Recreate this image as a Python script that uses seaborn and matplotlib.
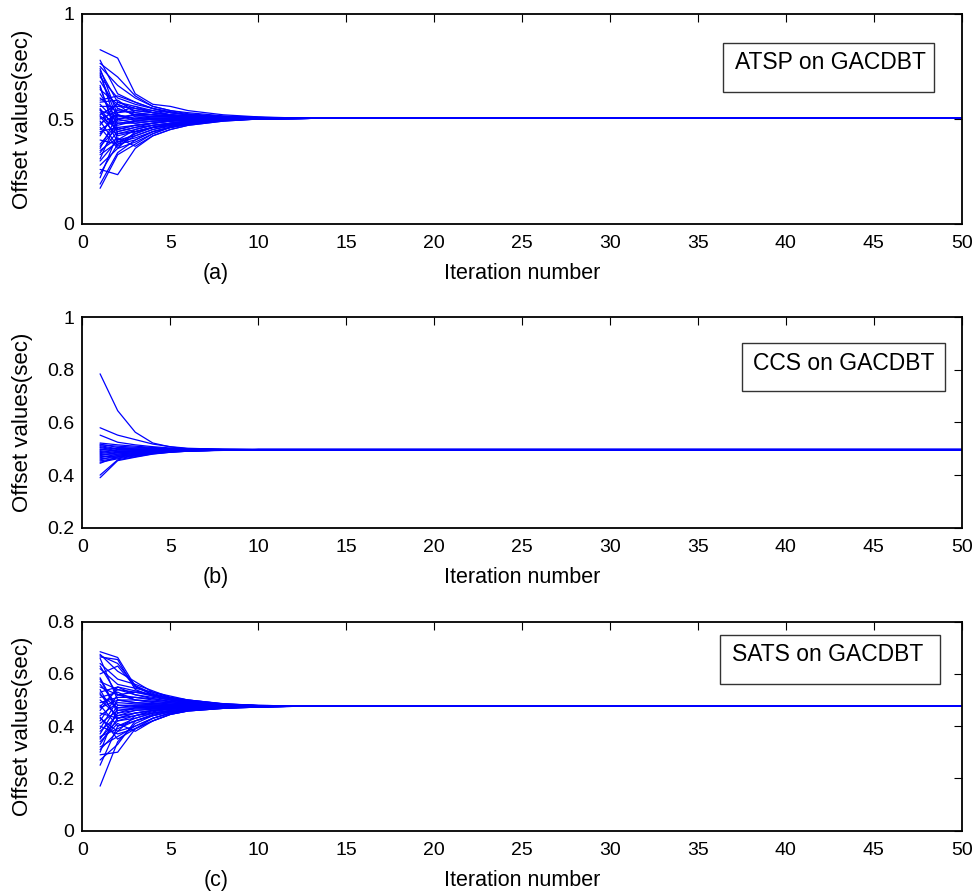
import numpy as np
import pandas as pd
import matplotlib
matplotlib.use("Agg")
import matplotlib.pyplot as plt
from matplotlib.patches import Rectangle
from matplotlib.ticker import FuncFormatter
import seaborn as sns

# Iterations at which each node's offset is recorded; the last two are the settled state
ITERATIONS = [1, 2, 3, 4, 5, 6, 8, 10, 13, 50]

# ATSP on GACDBT: offsets per node at iterations 1,2,3,4,5,6,8,10
ATSP_OFFSETS = [
    [0.83, 0.79, 0.62, 0.57, 0.56, 0.54, 0.52, 0.51],
    [0.78, 0.62, 0.58, 0.55, 0.53, 0.52, 0.51, 0.507],
    [0.765, 0.70, 0.61, 0.56, 0.54, 0.525, 0.512, 0.507],
    [0.75, 0.66, 0.60, 0.56, 0.54, 0.53, 0.515, 0.508],
    [0.74, 0.52, 0.49, 0.50, 0.50, 0.50, 0.503, 0.504],
    [0.73, 0.58, 0.55, 0.53, 0.52, 0.51, 0.508, 0.506],
    [0.72, 0.45, 0.47, 0.48, 0.49, 0.495, 0.50, 0.503],
    [0.71, 0.50, 0.52, 0.52, 0.515, 0.51, 0.506, 0.505],
    [0.70, 0.60, 0.57, 0.55, 0.53, 0.52, 0.51, 0.507],
    [0.68, 0.55, 0.52, 0.52, 0.51, 0.51, 0.507, 0.505],
    [0.66, 0.40, 0.45, 0.47, 0.48, 0.49, 0.498, 0.502],
    [0.65, 0.43, 0.44, 0.46, 0.475, 0.485, 0.497, 0.502],
    [0.64, 0.57, 0.54, 0.53, 0.52, 0.515, 0.508, 0.506],
    [0.62, 0.49, 0.50, 0.51, 0.51, 0.505, 0.505, 0.505],
    [0.60, 0.53, 0.56, 0.54, 0.53, 0.52, 0.51, 0.507],
    [0.59, 0.61, 0.58, 0.55, 0.535, 0.52, 0.51, 0.507],
    [0.58, 0.59, 0.53, 0.52, 0.515, 0.51, 0.506, 0.505],
    [0.57, 0.48, 0.48, 0.49, 0.495, 0.50, 0.502, 0.504],
    [0.56, 0.56, 0.55, 0.54, 0.52, 0.515, 0.508, 0.506],
    [0.55, 0.44, 0.46, 0.47, 0.48, 0.49, 0.498, 0.502],
    [0.545, 0.39, 0.43, 0.46, 0.475, 0.486, 0.497, 0.502],
    [0.54, 0.51, 0.52, 0.51, 0.51, 0.508, 0.506, 0.505],
    [0.53, 0.47, 0.49, 0.50, 0.50, 0.50, 0.503, 0.504],
    [0.52, 0.57, 0.51, 0.50, 0.50, 0.502, 0.504, 0.505],
    [0.515, 0.45, 0.47, 0.48, 0.49, 0.495, 0.50, 0.503],
    [0.51, 0.42, 0.44, 0.46, 0.47, 0.48, 0.495, 0.501],
    [0.50, 0.54, 0.53, 0.52, 0.515, 0.51, 0.507, 0.505],
    [0.49, 0.37, 0.42, 0.45, 0.47, 0.48, 0.495, 0.501],
    [0.48, 0.52, 0.50, 0.50, 0.505, 0.505, 0.505, 0.505],
    [0.47, 0.58, 0.56, 0.53, 0.52, 0.51, 0.507, 0.505],
    [0.46, 0.36, 0.39, 0.43, 0.46, 0.475, 0.492, 0.50],
    [0.45, 0.50, 0.51, 0.51, 0.51, 0.508, 0.506, 0.505],
    [0.44, 0.46, 0.47, 0.48, 0.49, 0.495, 0.50, 0.503],
    [0.43, 0.53, 0.54, 0.53, 0.52, 0.512, 0.507, 0.505],
    [0.42, 0.55, 0.52, 0.51, 0.51, 0.508, 0.506, 0.505],
    [0.40, 0.38, 0.43, 0.46, 0.47, 0.48, 0.496, 0.502],
    [0.38, 0.48, 0.49, 0.49, 0.495, 0.50, 0.503, 0.504],
    [0.37, 0.46, 0.44, 0.46, 0.475, 0.485, 0.497, 0.502],
    [0.36, 0.52, 0.50, 0.50, 0.50, 0.503, 0.504, 0.505],
    [0.35, 0.41, 0.37, 0.42, 0.45, 0.47, 0.49, 0.50],
    [0.34, 0.44, 0.46, 0.48, 0.49, 0.495, 0.50, 0.503],
    [0.33, 0.39, 0.41, 0.44, 0.46, 0.475, 0.494, 0.501],
    [0.31, 0.50, 0.48, 0.49, 0.49, 0.497, 0.502, 0.504],
    [0.30, 0.40, 0.42, 0.45, 0.465, 0.48, 0.495, 0.501],
    [0.28, 0.36, 0.44, 0.46, 0.48, 0.49, 0.498, 0.502],
    [0.26, 0.235, 0.36, 0.42, 0.45, 0.47, 0.49, 0.50],
    [0.24, 0.38, 0.40, 0.44, 0.46, 0.478, 0.494, 0.501],
    [0.22, 0.43, 0.45, 0.47, 0.48, 0.49, 0.498, 0.502],
    [0.19, 0.34, 0.40, 0.44, 0.46, 0.48, 0.495, 0.501],
    [0.17, 0.33, 0.38, 0.43, 0.46, 0.475, 0.493, 0.501],
]
ATSP_SETTLED = 0.503

# CCS on GACDBT
CCS_OFFSETS = [
    [0.785, 0.645, 0.563, 0.522, 0.507, 0.500, 0.498, 0.497],
    [0.58, 0.552, 0.535, 0.518, 0.508, 0.502, 0.498, 0.497],
    [0.552, 0.525, 0.515, 0.508, 0.503, 0.500, 0.498, 0.497],
    [0.522, 0.515, 0.510, 0.505, 0.501, 0.499, 0.497, 0.497],
    [0.518, 0.505, 0.503, 0.501, 0.499, 0.498, 0.497, 0.497],
    [0.515, 0.510, 0.506, 0.503, 0.500, 0.499, 0.497, 0.497],
    [0.512, 0.500, 0.499, 0.498, 0.498, 0.497, 0.497, 0.497],
    [0.508, 0.497, 0.497, 0.497, 0.497, 0.497, 0.497, 0.497],
    [0.505, 0.492, 0.493, 0.494, 0.495, 0.496, 0.497, 0.497],
    [0.500, 0.489, 0.491, 0.493, 0.494, 0.495, 0.496, 0.497],
    [0.497, 0.502, 0.500, 0.499, 0.498, 0.497, 0.497, 0.497],
    [0.493, 0.485, 0.488, 0.491, 0.493, 0.494, 0.496, 0.497],
    [0.490, 0.495, 0.496, 0.496, 0.497, 0.497, 0.497, 0.497],
    [0.486, 0.480, 0.485, 0.489, 0.492, 0.494, 0.496, 0.497],
    [0.482, 0.490, 0.492, 0.494, 0.495, 0.496, 0.497, 0.497],
    [0.478, 0.476, 0.482, 0.487, 0.490, 0.493, 0.496, 0.497],
    [0.474, 0.485, 0.489, 0.492, 0.494, 0.495, 0.497, 0.497],
    [0.470, 0.472, 0.479, 0.486, 0.490, 0.492, 0.495, 0.497],
    [0.466, 0.480, 0.486, 0.490, 0.493, 0.494, 0.496, 0.497],
    [0.462, 0.468, 0.477, 0.485, 0.489, 0.492, 0.495, 0.497],
    [0.458, 0.475, 0.483, 0.489, 0.492, 0.494, 0.496, 0.497],
    [0.454, 0.465, 0.475, 0.484, 0.489, 0.492, 0.495, 0.497],
    [0.449, 0.462, 0.473, 0.482, 0.488, 0.491, 0.495, 0.497],
    [0.445, 0.470, 0.480, 0.487, 0.491, 0.493, 0.496, 0.497],
    [0.400, 0.458, 0.470, 0.481, 0.487, 0.491, 0.495, 0.497],
    [0.390, 0.455, 0.468, 0.480, 0.487, 0.491, 0.494, 0.497],
]
CCS_SETTLED = 0.497

# SATS on GACDBT
SATS_OFFSETS = [
    [0.685, 0.663, 0.553, 0.52, 0.505, 0.495, 0.483, 0.478],
    [0.675, 0.61, 0.57, 0.53, 0.51, 0.50, 0.485, 0.479],
    [0.67, 0.64, 0.555, 0.525, 0.508, 0.497, 0.484, 0.479],
    [0.665, 0.655, 0.54, 0.515, 0.50, 0.492, 0.482, 0.478],
    [0.66, 0.50, 0.49, 0.485, 0.482, 0.48, 0.478, 0.477],
    [0.64, 0.58, 0.56, 0.535, 0.51, 0.50, 0.485, 0.479],
    [0.63, 0.52, 0.53, 0.515, 0.50, 0.49, 0.481, 0.477],
    [0.62, 0.56, 0.545, 0.53, 0.515, 0.50, 0.486, 0.479],
    [0.60, 0.63, 0.55, 0.52, 0.505, 0.495, 0.483, 0.478],
    [0.585, 0.46, 0.47, 0.472, 0.474, 0.475, 0.476, 0.476],
    [0.58, 0.45, 0.46, 0.465, 0.47, 0.472, 0.475, 0.476],
    [0.57, 0.54, 0.53, 0.52, 0.505, 0.495, 0.482, 0.478],
    [0.56, 0.48, 0.48, 0.48, 0.478, 0.477, 0.476, 0.476],
    [0.55, 0.52, 0.51, 0.505, 0.495, 0.488, 0.48, 0.477],
    [0.54, 0.42, 0.44, 0.455, 0.465, 0.47, 0.474, 0.475],
    [0.53, 0.55, 0.52, 0.51, 0.50, 0.49, 0.481, 0.477],
    [0.525, 0.43, 0.45, 0.46, 0.466, 0.47, 0.474, 0.475],
    [0.52, 0.47, 0.47, 0.47, 0.472, 0.474, 0.475, 0.476],
    [0.51, 0.53, 0.50, 0.495, 0.49, 0.485, 0.479, 0.477],
    [0.50, 0.44, 0.45, 0.46, 0.467, 0.471, 0.474, 0.475],
    [0.49, 0.51, 0.51, 0.50, 0.493, 0.487, 0.48, 0.477],
    [0.48, 0.40, 0.42, 0.44, 0.455, 0.463, 0.471, 0.474],
    [0.475, 0.54, 0.52, 0.505, 0.495, 0.488, 0.48, 0.477],
    [0.47, 0.50, 0.49, 0.487, 0.484, 0.481, 0.478, 0.477],
    [0.46, 0.55, 0.535, 0.52, 0.505, 0.494, 0.483, 0.478],
    [0.45, 0.43, 0.44, 0.45, 0.46, 0.466, 0.472, 0.475],
    [0.44, 0.49, 0.485, 0.482, 0.48, 0.479, 0.477, 0.476],
    [0.435, 0.35, 0.39, 0.43, 0.45, 0.46, 0.47, 0.474],
    [0.43, 0.38, 0.40, 0.43, 0.45, 0.46, 0.47, 0.474],
    [0.42, 0.52, 0.50, 0.49, 0.485, 0.482, 0.478, 0.477],
    [0.41, 0.46, 0.465, 0.468, 0.47, 0.472, 0.474, 0.475],
    [0.40, 0.37, 0.39, 0.42, 0.445, 0.458, 0.468, 0.473],
    [0.39, 0.50, 0.50, 0.495, 0.488, 0.484, 0.479, 0.477],
    [0.38, 0.44, 0.46, 0.465, 0.468, 0.471, 0.474, 0.475],
    [0.37, 0.48, 0.475, 0.475, 0.475, 0.476, 0.476, 0.476],
    [0.36, 0.39, 0.42, 0.44, 0.455, 0.462, 0.47, 0.474],
    [0.355, 0.42, 0.43, 0.45, 0.46, 0.466, 0.472, 0.475],
    [0.35, 0.45, 0.47, 0.47, 0.472, 0.473, 0.475, 0.476],
    [0.34, 0.41, 0.38, 0.42, 0.445, 0.458, 0.468, 0.473],
    [0.33, 0.43, 0.45, 0.46, 0.465, 0.47, 0.474, 0.475],
    [0.32, 0.36, 0.40, 0.43, 0.45, 0.46, 0.47, 0.474],
    [0.31, 0.38, 0.44, 0.46, 0.465, 0.47, 0.474, 0.475],
    [0.30, 0.47, 0.48, 0.48, 0.478, 0.477, 0.476, 0.476],
    [0.29, 0.30, 0.39, 0.42, 0.445, 0.458, 0.468, 0.473],
    [0.27, 0.33, 0.42, 0.445, 0.458, 0.465, 0.472, 0.475],
    [0.25, 0.40, 0.43, 0.45, 0.46, 0.466, 0.472, 0.475],
    [0.17, 0.34, 0.41, 0.44, 0.455, 0.463, 0.471, 0.474],
]
SATS_SETTLED = 0.477

PANEL_TITLES = ["ATSP on GACDBT", "CCS on GACDBT", "SATS on GACDBT"]
PANEL_TAGS = ["(a)", "(b)", "(c)"]
Y_LIMITS = [(0, 1), (0.2, 1), (0, 0.8)]
Y_TICKS = [[0, 0.5, 1], [0.2, 0.4, 0.6, 0.8, 1], [0, 0.2, 0.4, 0.6, 0.8]]
X_TICKS = list(range(0, 51, 5))


def long_table(offsets, settled):
    rows = []
    for node, vals in enumerate(offsets):
        series = list(vals) + [settled, settled]
        for it, v in zip(ITERATIONS, series):
            rows.append({"node": node, "iteration": it, "offset": v})
    return pd.DataFrame(rows)


tables = [long_table(ATSP_OFFSETS, ATSP_SETTLED),
          long_table(CCS_OFFSETS, CCS_SETTLED),
          long_table(SATS_OFFSETS, SATS_SETTLED)]

sns.set_style("white")
plt.rcParams["font.family"] = ["Liberation Sans", "DejaVu Sans"]
plt.rcParams["text.color"] = "black"
plt.rcParams["axes.labelcolor"] = "black"

W, H = 978, 896
fig = plt.figure(figsize=(W / 100, H / 100), dpi=100)

# axes frames in pixels: (left, top, right, bottom)
frames = [(82.5, 14.0, 961.7, 224.0),
          (82.5, 317.3, 961.7, 527.7),
          (82.5, 621.7, 961.7, 830.5)]
# annotation boxes in pixels: (left, top, right, bottom), text left, text baseline
boxes = [((723.3, 43.3, 934.0, 92.0), 735.0, 69.3),
         ((741.7, 343.3, 945.0, 391.3), 753.0, 370.0),
         ((720.0, 635.0, 940.0, 684.0), 732.3, 660.7)]

for i, (df, (l, t, r, b)) in enumerate(zip(tables, frames)):
    ax = fig.add_axes([l / W, 1 - b / H, (r - l) / W, (b - t) / H])
    sns.lineplot(data=df, x="iteration", y="offset", units="node",
                 estimator=None, color="#0000ff", linewidth=0.9,
                 legend=False, ax=ax)
    ax.set_xlim(0, 50)
    ax.set_ylim(*Y_LIMITS[i])
    ax.set_xticks(X_TICKS)
    ax.set_yticks(Y_TICKS[i])
    ax.yaxis.set_major_formatter(FuncFormatter(lambda v, p: f"{v:g}"))
    ax.tick_params(direction="in", length=5.5, width=0.8, top=True,
                   right=True, labelsize=14, colors="black")
    ax.tick_params(axis="x", pad=8)
    ax.tick_params(axis="y", pad=6)
    for s in ax.spines.values():
        s.set_linewidth(1.3)
        s.set_color("black")

    ax.set_xlabel("Iteration number", fontsize=15.5, color="black")
    ax.xaxis.label.set_va("baseline")
    ax.xaxis.set_label_coords(0.5, -55.0 / (b - t))
    ax.set_ylabel("Offset values(sec)", fontsize=16, color="black")
    ax.yaxis.label.set_va("center")
    ax.yaxis.set_label_coords((23.0 - l) / (r - l), 0.5)

    ax.text((216.0 - l) / (r - l), -55.0 / (b - t), PANEL_TAGS[i],
            transform=ax.transAxes, ha="center", va="baseline",
            fontsize=15.5, color="black")

    (bl, bt, br, bb), tx, ty = boxes[i]
    fig.patches.append(Rectangle((bl / W, 1 - bb / H), (br - bl) / W,
                                 (bb - bt) / H, transform=fig.transFigure,
                                 fill=True, facecolor="white",
                                 edgecolor="#333333", linewidth=1.0,
                                 zorder=5))
    fig.text(tx / W, 1 - ty / H, PANEL_TITLES[i], ha="left", va="baseline",
             fontsize=16.5, color="black", zorder=6)

fig.savefig("out.png", dpi=100)
